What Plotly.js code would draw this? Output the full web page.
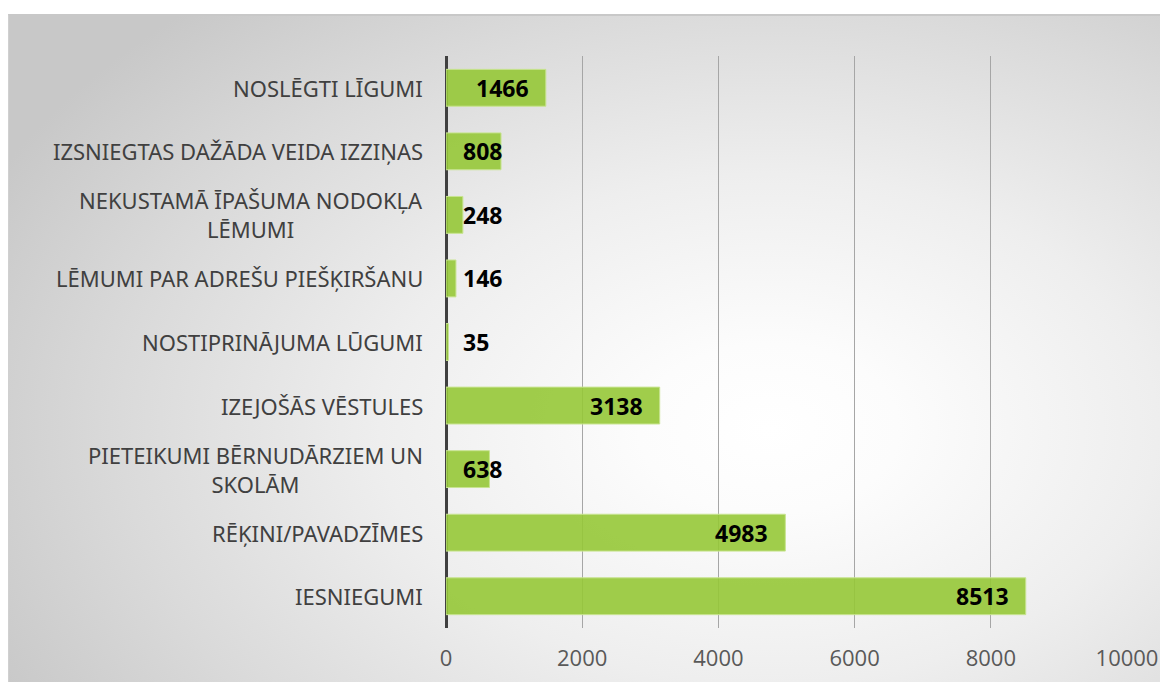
<!DOCTYPE html>
<html>
<head>
<meta charset="utf-8">
<script src="https://cdn.plot.ly/plotly-3.0.1.min.js"></script>
<style>
  html, body { margin: 0; padding: 0; background: #ffffff; }
  #frame {
    position: absolute; left: 8px; top: 14px; width: 1152px; height: 668px;
    box-sizing: border-box; border-top: 2px solid #c8c8c8; border-left: 1px solid #d0d0d0;
    background: radial-gradient(ellipse 75% 85% at 66% 62%, #ffffff 0%, #fcfcfc 15%, #eeeeee 45%, #dadada 75%, #c8c8c8 100%);
  }
  #chart { position: absolute; left: 0; top: 0; width: 1167px; height: 683px; }
</style>
</head>
<body>
<div id="frame"></div>
<div id="chart"></div>
<script>
const categories = [
  "NOSLĒGTI LĪGUMI",
  "IZSNIEGTAS DAŽĀDA VEIDA IZZIŅAS",
  "NEKUSTAMĀ ĪPAŠUMA NODOKĻA<br>LĒMUMI",
  "LĒMUMI PAR ADREŠU PIEŠĶIRŠANU",
  "NOSTIPRINĀJUMA LŪGUMI",
  "IZEJOŠĀS VĒSTULES",
  "PIETEIKUMI BĒRNUDĀRZIEM UN<br>SKOLĀM",
  "RĒĶINI/PAVADZĪMES",
  "IESNIEGUMI"
];
const values = [1466, 808, 248, 146, 35, 3138, 638, 4983, 8513];
const xTicks = [0, 2000, 4000, 6000, 8000, 10000];

const trace = {
  type: 'bar',
  orientation: 'h',
  y: categories,
  x: values,
  marker: { color: 'rgba(150,200,55,0.9)', line: { color: 'rgba(200,228,145,1)', width: 1 } },
  hoverinfo: 'skip'
};

const annotations = [];
categories.forEach((c, i) => {
  annotations.push({
    xref: 'x', yref: 'y', x: 0, y: c, xanchor: 'right', yanchor: 'middle',
    xshift: -22, text: c, showarrow: false, align: 'center', borderpad: 0,
    font: { family: 'Noto Sans', size: 22, color: '#404040' }
  });
  const v = values[i];
  const inside = v >= 1000;
  annotations.push({
    xref: 'x', yref: 'y', x: inside ? v : 0, y: c,
    xanchor: inside ? 'right' : 'left', yanchor: 'middle',
    xshift: inside ? -16 : 16, text: String(v), showarrow: false, borderpad: 0,
    font: { family: 'Noto Sans', size: 23, color: '#000000', weight: 700 }
  });
});

const layout = {
  width: 1167, height: 683,
  paper_bgcolor: 'rgba(0,0,0,0)', plot_bgcolor: 'rgba(0,0,0,0)',
  margin: { l: 446, r: 40, t: 56, b: 55 },
  showlegend: false,
  bargap: 0.42,
  xaxis: {
    range: [0, 10000], tickvals: xTicks, ticktext: xTicks.map(String),
    showgrid: true, gridcolor: '#a6a6a6', gridwidth: 1,
    zeroline: true, zerolinecolor: '#404040', zerolinewidth: 3,
    showline: false, ticks: 'outside', ticklen: 11, tickcolor: 'rgba(0,0,0,0)',
    tickfont: { family: 'Open Sans', size: 22, color: '#595959' },
    fixedrange: true
  },
  yaxis: {
    type: 'category', autorange: 'reversed', showticklabels: false,
    showgrid: false, zeroline: false, showline: false, fixedrange: true
  },
  annotations: annotations
};

Plotly.newPlot('chart', [trace], layout, { displayModeBar: false, staticPlot: true });
</script>
</body>
</html>
